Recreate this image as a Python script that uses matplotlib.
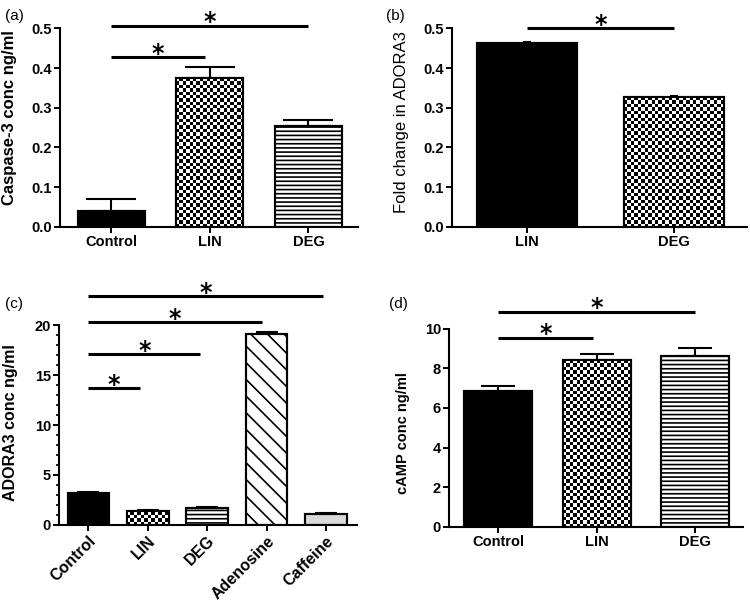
import numpy as np
import matplotlib
matplotlib.use("Agg")
import matplotlib.pyplot as plt
from matplotlib.ticker import MultipleLocator, FormatStrFormatter

plt.rcParams['font.family'] = ['Liberation Sans', 'DejaVu Sans']
plt.rcParams['hatch.linewidth'] = 1.2

# (a) caspase-3
groups_a = ["Control", "LIN", "DEG"]
caspase = [0.04, 0.375, 0.255]
caspase_err = [0.03, 0.027, 0.013]
sig_a = [(0.0, 2.0, 0.507), (0.0, 0.95, 0.427)]

# (b) fold change ADORA3
groups_b = ["LIN", "DEG"]
fold = [0.463, 0.327]
fold_err = [0.002, 0.002]
sig_b = [(0.0, 1.0, 0.50)]

# (c) ADORA3 conc
groups_c = ["Control", "LIN", "DEG", "Adenosine", "Caffeine"]
adora = [3.2, 1.4, 1.65, 19.1, 1.1]
adora_err = [0.05, 0.12, 0.15, 0.25, 0.07]
sig_c = [(0.0, 3.95, 22.9), (0.0, 2.92, 20.3), (0.0, 1.88, 17.1), (0.0, 0.87, 13.7)]

# (d) cAMP
groups_d = ["Control", "LIN", "DEG"]
camp = [6.85, 8.4, 8.62]
camp_err = [0.27, 0.3, 0.38]
sig_d = [(0.0, 2.0, 10.86), (0.0, 0.96, 9.55)]

fig = plt.figure(figsize=(7.5, 6.02), dpi=100)


def checker(ax, bar, cell=3.4):
    x0, y0 = bar.get_x(), bar.get_y()
    w, h = bar.get_width(), bar.get_height()
    (px0, py0), (px1, py1) = ax.transData.transform([(x0, y0), (x0 + w, y0 + h)])
    nx = max(1, int(round((px1 - px0) / cell)))
    ny = max(1, int(round((py1 - py0) / cell)))
    img = np.add.outer(np.arange(ny), np.arange(nx)) % 2
    im = ax.imshow(img, cmap='gray', vmin=0, vmax=1, extent=(x0, x0 + w, y0, y0 + h),
                   origin='lower', aspect='auto', interpolation='nearest', zorder=2.2)
    im.set_clip_path(bar)


def panel(rect, names, vals, errs, styles, width, xlim, ylim, major, sig,
          ylabel, ysize, ybold, lab_coords, capsize, rot=0, minor=None, xsize=10.5):
    ax = fig.add_axes(rect)
    x = np.arange(len(names))
    ax.set_xlim(*xlim)
    ax.set_ylim(*ylim)
    bars = ax.bar(x, vals, width, color='white', edgecolor='black', linewidth=1.5, zorder=2)
    for b, st in zip(bars, styles):
        if st == 'solid':
            b.set_facecolor('black')
        elif st == 'gray':
            b.set_facecolor('#d9d9d9')
        elif st in ('hline', 'diag'):
            b.set_hatch('----' if st == 'hline' else '\\\\')
    ax.errorbar(x, vals, yerr=[np.zeros(len(vals)), errs], fmt='none', ecolor='black',
                elinewidth=1.5, capsize=capsize, capthick=1.5, zorder=1)
    for b, st in zip(bars, styles):
        if st == 'check':
            checker(ax, b)
    ax.bar(x, vals, width, fill=False, edgecolor='black', linewidth=1.5, zorder=3)
    ax.set_xlim(*xlim)
    ax.set_ylim(*ylim)
    for x0, x1, y in sig:
        ax.plot([x0, x1], [y, y], color='black', lw=2.2, clip_on=False, solid_capstyle='butt')
        ax.annotate('*', xy=((x0 + x1) / 2, y), xytext=(0, -2.5), textcoords='offset points',
                    ha='center', va='baseline', fontsize=17, family='DejaVu Sans',
                    fontweight='bold', annotation_clip=False)
    for s in ['top', 'right']:
        ax.spines[s].set_visible(False)
    for s in ['left', 'bottom']:
        ax.spines[s].set_linewidth(1.5)
    ax.yaxis.set_major_locator(MultipleLocator(major))
    if minor:
        ax.yaxis.set_minor_locator(MultipleLocator(minor))
        ax.tick_params(axis='y', which='minor', length=2.5, width=1.2)
    ax.tick_params(which='major', length=4.5, width=1.4, labelsize=10.5, pad=1.5)
    ax.set_xticks(x)
    if rot:
        ax.set_xticklabels(names, rotation=rot, ha='right', rotation_mode='anchor', fontsize=xsize)
    else:
        ax.set_xticklabels(names, fontsize=xsize)
    for t in ax.get_xticklabels() + ax.get_yticklabels():
        t.set_fontweight('bold')
    ax.set_ylabel(ylabel, fontsize=ysize, fontweight='bold' if ybold else 'normal')
    ax.yaxis.set_label_coords(*lab_coords)
    return ax


ax_a = panel([0.08, 0.623, 0.397, 0.330], groups_a, caspase, caspase_err,
             ['solid', 'check', 'hline'], 0.68, (-0.52, 2.5), (0, 0.5), 0.1, sig_a,
             "Caspase-3 conc ng/ml", 12, True, (-0.143, 0.55), 18)
ax_a.yaxis.set_major_formatter(FormatStrFormatter('%.1f'))

ax_b = panel([0.603, 0.623, 0.393, 0.330], groups_b, fold, fold_err,
             ['solid', 'check'], 0.68, (-0.51, 1.5), (0, 0.5), 0.1, sig_b,
             "Fold change in ADORA3", 12, False, (-0.146, 0.53), 3)
ax_b.yaxis.set_major_formatter(FormatStrFormatter('%.1f'))

ax_c = panel([0.079, 0.128, 0.397, 0.332], groups_c, adora, adora_err,
             ['solid', 'check', 'hline', 'diag', 'gray'], 0.7, (-0.49, 4.52), (0, 20), 5, sig_c,
             "ADORA3 conc ng/ml", 11.5, True, (-0.138, 0.51), 8, rot=45, minor=1, xsize=11.5)

ax_d = panel([0.599, 0.125, 0.392, 0.329], groups_d, camp, camp_err,
             ['solid', 'check', 'hline'], 0.69, (-0.5, 2.49), (0, 10), 2, sig_d,
             "cAMP conc ng/ml", 10.5, True, (-0.133, 0.475), 12)

fig.text(0.006, 0.985, "(a)", fontsize=11, va='top')
fig.text(0.515, 0.985, "(b)", fontsize=11, va='top')
fig.text(0.006, 0.506, "(c)", fontsize=11, va='top')
fig.text(0.519, 0.506, "(d)", fontsize=11, va='top')

fig.savefig("out.png", dpi=100)
